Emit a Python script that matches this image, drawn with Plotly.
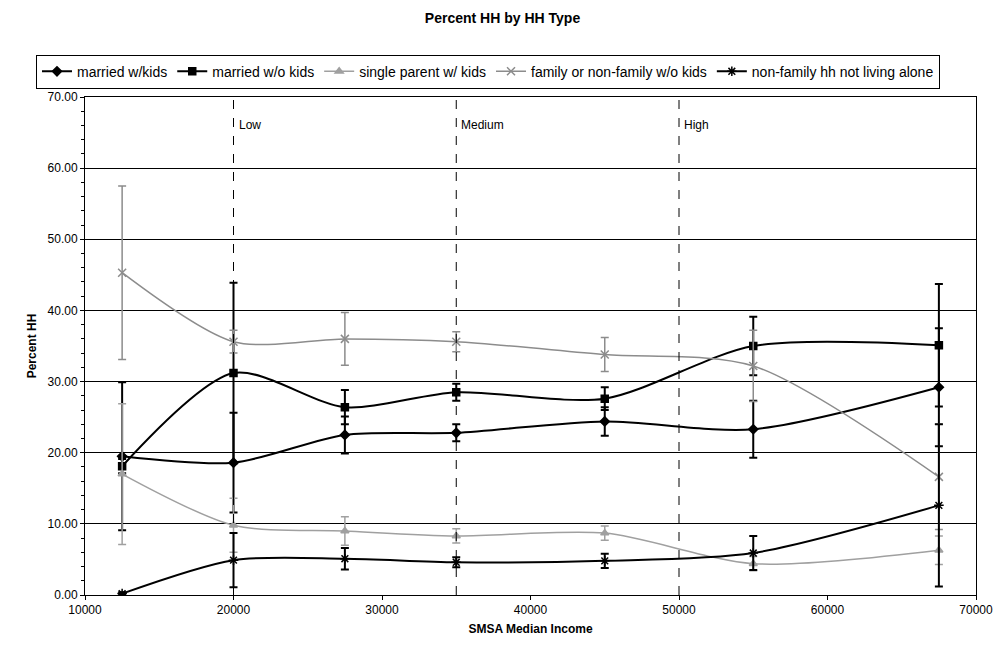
import plotly.graph_objects as go

income = [12500, 20000, 27500, 35000, 45000, 55000, 67500]

married_kids = [19.5, 18.6, 22.5, 22.8, 24.4, 23.3, 29.2]
married_kids_err = [10.4, 7.0, 2.6, 1.2, 2.0, 4.0, 8.3]

married_nokids = [18.1, 31.2, 26.4, 28.5, 27.6, 35.0, 35.1]
married_nokids_err = [1.0, 12.7, 2.4, 1.2, 1.6, 4.1, 8.6]

single_parent = [17.0, 9.8, 9.0, 8.3, 8.7, 4.4, 6.3]
single_parent_err = [9.9, 3.8, 2.0, 1.0, 1.0, 1.0, 2.0]

family_nokids = [45.3, 35.6, 36.0, 35.6, 33.8, 32.2, 16.6]
family_nokids_err = [12.2, 1.6, 3.7, 1.4, 2.4, 5.0, 7.4]

nonfamily = [0.2, 4.9, 5.1, 4.6, 4.8, 5.9, 12.6]
nonfamily_err = [0.2, 3.8, 1.5, 0.7, 1.0, 2.4, 11.4]

band_x = [20000, 35000, 50000]
band_labels = ["Low", "Medium", "High"]

series = [
    ("married w/kids", married_kids, married_kids_err, "black", "diamond", 7, 2),
    ("married w/o kids", married_nokids, married_nokids_err, "black", "square", 7, 2),
    ("single parent w/ kids", single_parent, single_parent_err, "#a0a0a0", "triangle-up", 7, 1.5),
    ("family or non-family w/o kids", family_nokids, family_nokids_err, "#8c8c8c", "x-thin-open", 8, 1.5),
    ("non-family hh not living alone", nonfamily, nonfamily_err, "black", "asterisk-open", 8, 2),
]

fig = go.Figure()
for name, vals, err, col, sym, size, lw in series:
    fig.add_trace(go.Scatter(
        x=income, y=vals, name=name, mode="lines+markers",
        line=dict(color=col, width=lw, shape="spline", smoothing=0.8),
        marker=dict(symbol=sym, size=size, color=col, line=dict(color=col, width=1.5)),
        error_y=dict(type="data", array=err, visible=True, color=col,
                     thickness=lw, width=4),
    ))

for bx, lab in zip(band_x, band_labels):
    fig.add_shape(type="line", x0=bx, x1=bx, y0=0, y1=70, xref="x", yref="y",
                  line=dict(color="black", width=1, dash="dash"))
    fig.add_annotation(x=bx, y=66, text=lab, showarrow=False, xanchor="left",
                       xshift=3, font=dict(size=12, color="black"))

fig.update_layout(
    width=1005, height=660,
    paper_bgcolor="white", plot_bgcolor="white",
    font=dict(family="Liberation Sans, Arial, sans-serif", size=12, color="black"),
    margin=dict(l=85, r=25, t=97, b=65),
    title=dict(text="<b>Percent HH by HH Type</b>", x=0.5, xanchor="center",
               y=0.98, yanchor="top", font=dict(size=14)),
    showlegend=True,
    legend=dict(orientation="h", x=-0.055, xanchor="left", y=1.085, yanchor="top",
                bordercolor="black", borderwidth=1, font=dict(size=14),
                itemwidth=30, tracegroupgap=0, bgcolor="white"),
    xaxis=dict(range=[10000, 70000], dtick=10000, tick0=10000, tickformat="d",
               showgrid=False,
               showline=True, linecolor="black", linewidth=1, mirror=True,
               ticks="outside", ticklen=4, tickcolor="black", zeroline=False,
               title=dict(text="<b>SMSA Median Income</b>", font=dict(size=12), standoff=8)),
    yaxis=dict(range=[0, 70], dtick=10, tickformat=".2f", showgrid=True,
               gridcolor="black", gridwidth=1, showline=True, linecolor="black",
               linewidth=1, mirror=True, ticks="outside", ticklen=4, tickcolor="black",
               zeroline=False,
               minor=dict(dtick=2, ticks="outside", ticklen=3, tickcolor="black", showgrid=False),
               title=dict(text="<b>Percent HH</b>", font=dict(size=12), standoff=8)),
)

fig.write_html("out.html")
